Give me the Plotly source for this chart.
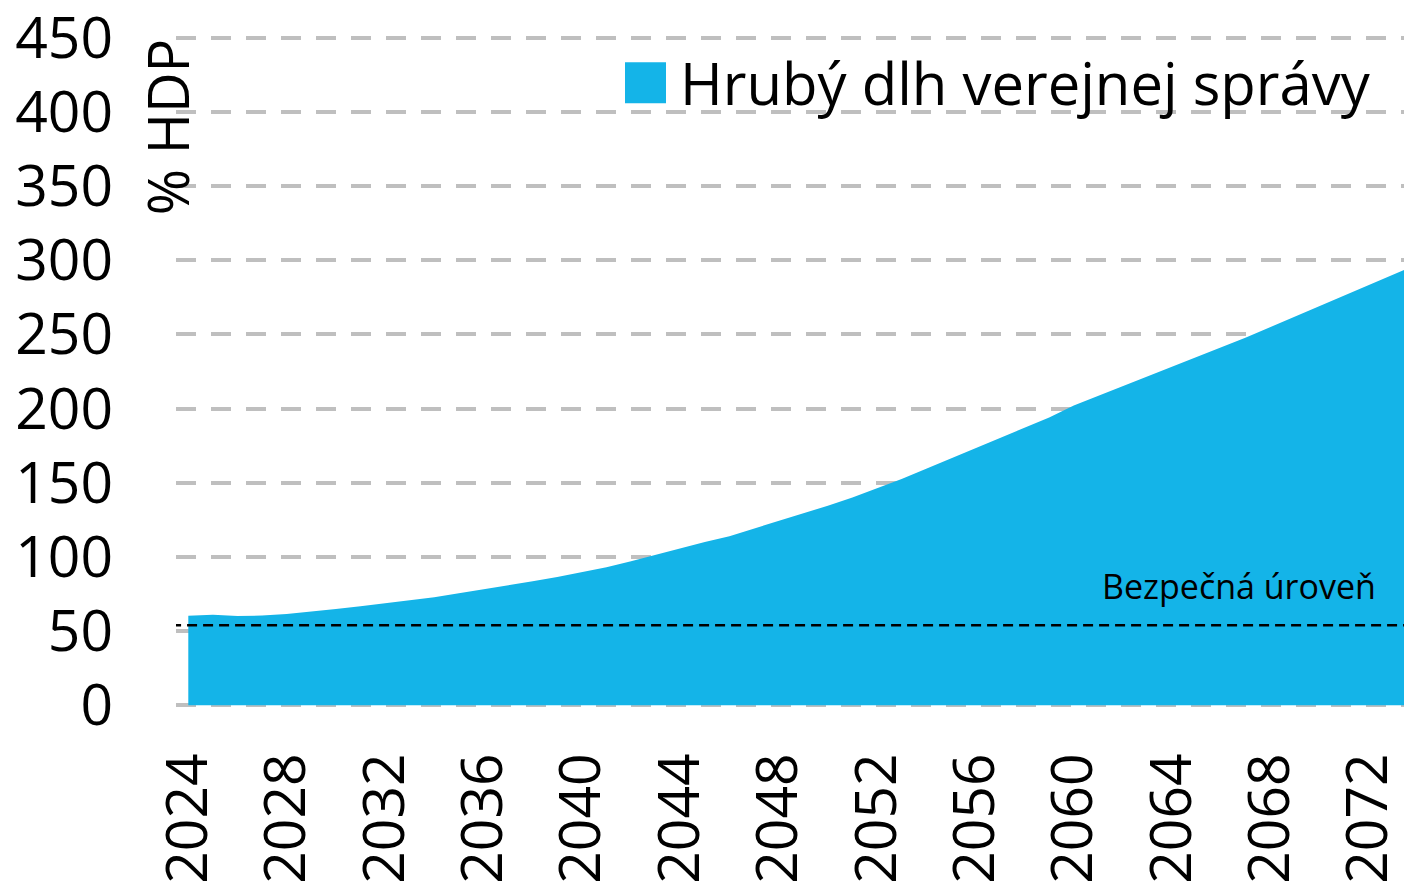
import plotly.graph_objects as go

years = list(range(2024, 2075))
debt = [60.4, 61.0, 60.1, 60.5, 61.5, 63.0, 64.8, 66.8, 68.8, 71.0,
        72.8, 75.5, 78.0, 80.5, 83.5, 86.5, 89.5, 93.0, 97.0, 101.5,
        105.5, 110.0, 114.0, 119.0, 124.0, 129.0, 134.5, 140.0, 146.0, 152.5,
        159.5, 166.5, 173.5, 180.5, 187.0, 194.0, 202.0, 208.5, 215.0, 221.5,
        228.0, 234.5, 241.0, 248.0, 255.0, 262.0, 269.0, 276.0, 283.0, 290.0,
        297.5]
safe_level = 54
x_ticks = list(range(2024, 2073, 4))
y_ticks = list(range(0, 451, 50))
series_name = "Hrubý dlh verejnej správy"
safe_label = "Bezpečná úroveň"
y_title = "% HDP"

BLUE = "#14b4e8"
FONT = "Open Sans"

# page is offset by the default 8px body margin
OFF = 8
W, H = 1412 - OFF, 882 - OFF
PLOT_LEFT, PLOT_RIGHT = 176, 1412          # page pixels
PLOT_TOP, PLOT_BOTTOM = 35.8, 707.5        # page pixels
L = PLOT_LEFT - OFF
R = 0
T = PLOT_TOP - OFF
B = H - (PLOT_BOTTOM - OFF)
PW = PLOT_RIGHT - PLOT_LEFT
PH = PLOT_BOTTOM - PLOT_TOP


def px(xp):
    return (xp - PLOT_LEFT) / PW


def py(yp):
    return (PLOT_BOTTOM - yp) / PH


fig = go.Figure()
fig.add_trace(go.Scatter(
    x=years, y=debt, mode="lines", fill="tozeroy",
    line=dict(width=0, color=BLUE), fillcolor=BLUE,
    name=series_name, showlegend=False, hoverinfo="x+y",
))
fig.add_trace(go.Scatter(
    x=[2023.3, 2074], y=[safe_level, safe_level], mode="lines",
    line=dict(color="black", width=2.5, dash="10px,6px"),
    showlegend=False, cliponaxis=False, hoverinfo="skip",
))

fig.update_layout(
    width=W, height=H,
    margin=dict(l=L, r=R, t=T, b=B, pad=0),
    paper_bgcolor="white", plot_bgcolor="white",
    font=dict(family=FONT, color="black"),
    showlegend=False,
)
fig.update_xaxes(
    range=[2023.5, 2073.75], tickvals=x_ticks, ticktext=[str(v) for v in x_ticks],
    tickangle=-90, tickfont=dict(size=57, family=FONT, color="black"),
    showgrid=False, zeroline=False, showline=False, ticks="",
    ticklabelstandoff=34, automargin=False, ticklabeloverflow="allow",
)
fig.update_yaxes(
    range=[-1.2, 451.2], tickvals=y_ticks,
    tickfont=dict(size=57, family=FONT, color="black"),
    showgrid=True, gridcolor="#bfbfbf", gridwidth=4, griddash="20px,15px",
    zeroline=False, showline=False, ticks="",
    ticklabelstandoff=62, automargin=False, ticklabeloverflow="allow",
)

# legend drawn manually
fig.add_shape(type="rect", xref="paper", yref="paper",
              x0=px(625), x1=px(666), y0=py(103), y1=py(62),
              fillcolor=BLUE, line=dict(width=0))
fig.add_annotation(xref="paper", yref="paper",
                   x=px(678), y=py(82),
                   xanchor="left", yanchor="middle", showarrow=False,
                   text=series_name, font=dict(size=58, family=FONT, color="black"))
fig.add_annotation(xref="paper", yref="y",
                   x=px(1378), y=safe_level,
                   xanchor="right", yanchor="bottom", yshift=14, showarrow=False,
                   text=safe_label, font=dict(size=34, family=FONT, color="black"))
fig.add_annotation(xref="paper", yref="paper",
                   x=px(167), y=py(37),
                   xanchor="center", yanchor="top", textangle=-90, showarrow=False,
                   text=y_title, font=dict(size=56, family=FONT, color="black"))

fig.write_html("out.html")
